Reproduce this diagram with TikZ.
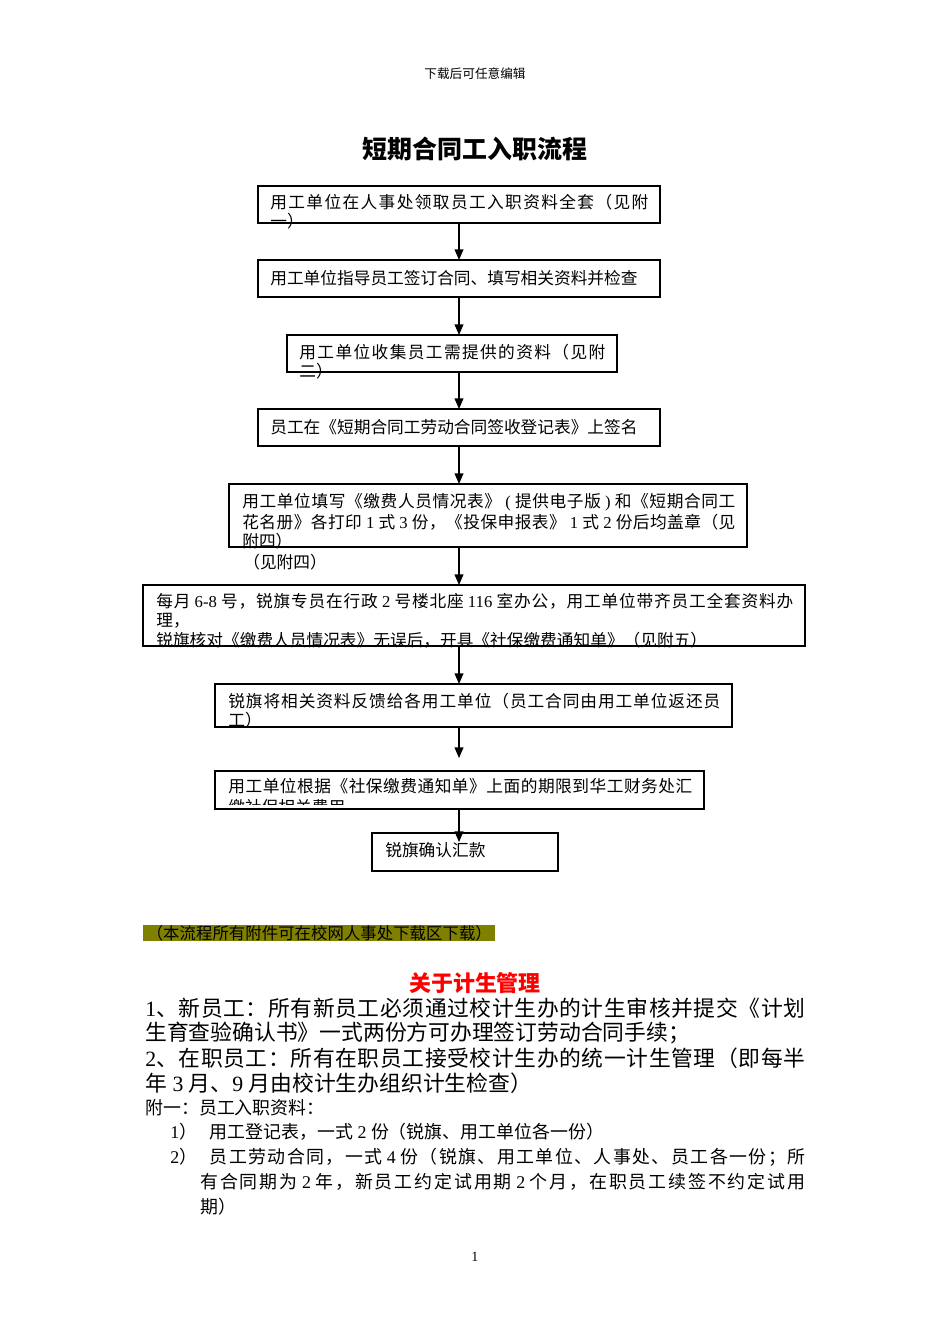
\documentclass[tikz,border=0pt]{standalone}
\usepackage{fontspec}
\setmainfont{Noto Sans CJK SC}
\newfontfamily\latf{Liberation Serif}
\usetikzlibrary{arrows.meta}
\newcommand\lat[1]{{\latf#1}}
\newdimen\pxu \pxu=0.02cm
\newcommand\jl[2]{\hbox to #1\pxu{#2}}
% inter-character glue for CJK so that justified lines can stretch
\makeatletter
\count@="4E00
\loop\ifnum\count@<"A000 \XeTeXcharclass\count@=1 \advance\count@ 1 \repeat
\makeatother
\XeTeXcharclass"3001=3 \XeTeXcharclass"3002=3 \XeTeXcharclass"FF0C=3
\XeTeXcharclass"FF1A=3 \XeTeXcharclass"FF1B=3 \XeTeXcharclass"FF09=3
\XeTeXcharclass"300B=3 \XeTeXcharclass"FF08=2 \XeTeXcharclass"300A=2
\newcommand\cjkglue{\hskip0pt plus 1fil\relax}
\XeTeXinterchartokenstate=1
\XeTeXinterchartoks 1 1 {\cjkglue}
\XeTeXinterchartoks 1 2 {\cjkglue}
\XeTeXinterchartoks 1 3 {\cjkglue}
\XeTeXinterchartoks 2 1 {\cjkglue}
\XeTeXinterchartoks 2 2 {\cjkglue}
\XeTeXinterchartoks 2 3 {\cjkglue}
\XeTeXinterchartoks 3 1 {\cjkglue}
\XeTeXinterchartoks 3 2 {\cjkglue}
\XeTeXinterchartoks 3 3 {\cjkglue}
\XeTeXinterchartoks 0 1 {\cjkglue}
\XeTeXinterchartoks 1 0 {\cjkglue}
\XeTeXinterchartoks 0 2 {\cjkglue}
\XeTeXinterchartoks 3 0 {\cjkglue}
\definecolor{olivehl}{RGB}{128,128,0}
\definecolor{redhd}{RGB}{255,0,0}
\begin{document}
\begin{tikzpicture}[x=0.02cm,y=-0.02cm,
  box/.style={draw, line width=0.65pt, inner sep=0pt, outer sep=0pt},
  txt/.style={anchor=west, inner sep=0pt, font=\fontsize{9.5}{11}\selectfont},
  big/.style={anchor=west, inner sep=0pt, font=\fontsize{12.4}{14}\selectfont},
  mid/.style={anchor=west, inner sep=0pt, font=\fontsize{10.2}{12}\selectfont},
  arr/.style={line width=0.65pt, -{Triangle[length=6pt,width=5pt]}}]
\useasboundingbox[fill=white] (0,0) rectangle (950,1344);

\node[inner sep=0pt, font=\fontsize{7.2}{9}\selectfont] (hdr) at (475,74) {下载后可任意编辑};
\node[inner sep=0pt, font=\fontsize{14.2}{16}\selectfont\bfseries] (title) at (475,149) {短期合同工入职流程};

% boxes
\node[box, minimum width=8.04cm, minimum height=0.74cm] (b1) at (459,204.5) {};
\node[box, minimum width=8.04cm, minimum height=0.74cm] (b2) at (459,278.5) {};
\node[box, minimum width=6.6cm, minimum height=0.74cm] (b3) at (452,353.5) {};
\node[box, minimum width=8.04cm, minimum height=0.74cm] (b4) at (459,427.5) {};
\node[box, minimum width=10.36cm, minimum height=1.26cm] (b5) at (488,515.5) {};
\node[box, minimum width=13.24cm, minimum height=1.22cm] (b6) at (474,615.5) {};
\node[box, minimum width=10.34cm, minimum height=0.86cm] (b7) at (473.5,705.5) {};
\node[box, minimum width=9.78cm, minimum height=0.76cm] (b8) at (459.5,790) {};
\node[box, minimum width=3.72cm, minimum height=0.76cm] (b9) at (465,852) {};

% box texts
\node[txt] (t1a) at (270,202) {\jl{378}{用工单位在人事处领取员工入职资料全套（见附}};
\node[txt] (t1b) at (270,221) {一）};
\node[txt] (t2) at (270,278) {用工单位指导员工签订合同、填写相关资料并检查};
\node[txt] (t3a) at (299,352) {\jl{306}{用工单位收集员工需提供的资料（见附}};
\node[txt] (t3b) at (299,371) {二）};
\node[txt] (t4) at (270,427) {员工在《短期合同工劳动合同签收登记表》上签名};
\node[txt] (t5a) at (242,502) {\jl{493}{用工单位填写《缴费人员情况表》\lat{ ( }提供电子版\lat{ ) }和《短期合同工}};
\node[txt] (t5b) at (242,522) {\jl{493}{花名册》各打印\lat{ 1 }式\lat{ 3 }份，《投保申报表》\lat{ 1 }式\lat{ 2 }份后均盖章（见}};
\node[txt] (t5c) at (242,541) {附四）};
\node[txt] (t5d) at (243,562) {（见附四）};
\node[txt] (t6a) at (156,601) {\jl{637}{每月\lat{ 6-8 }号，锐旗专员在行政\lat{ 2 }号楼北座\lat{ 116 }室办公，用工单位带齐员工全套资料办}};
\node[txt] (t6b) at (156,621) {理，};
\node[txt] (t6c) at (156,640) {锐旗核对《缴费人员情况表》无误后，开具《社保缴费通知单》（见附五）};
\node[txt] (t7a) at (228,701) {\jl{492}{锐旗将相关资料反馈给各用工单位（员工合同由用工单位返还员}};
\node[txt] (t7b) at (228,720) {工）};
\node[txt] (t8a) at (228,786) {\jl{464}{用工单位根据《社保缴费通知单》上面的期限到华工财务处汇}};
\begin{scope}
\clip (215,771) rectangle (704,804);
\node[txt] (t8b) at (228,807) {缴社保相关费用};
\end{scope}
\node[txt] (t9) at (385,850) {锐旗确认汇款};

% arrows
\draw[arr] (b1.south) -- (b2.north);
\draw[arr] (b2.south) -- (b3.north -| b2.south);
\draw[arr] (b3.south -| b2.south) -- (b4.north);
\draw[arr] (b4.south) -- (b5.north -| b4.south);
\draw[arr] (b5.south -| b4.south) -- (b6.north -| b4.south);
\draw[arr] (b6.south -| b4.south) -- (b7.north -| b4.south);
\draw[arr, shorten >=0.26cm] (b7.south -| b4.south) -- (b8.north -| b4.south);
\draw[arr, shorten >=-0.18cm] (b8.south -| b4.south) -- (b9.north -| b4.south);

% note
\node[fill=olivehl, anchor=west, inner sep=0pt, minimum width=7.04cm, minimum height=0.32cm,
  font=\fontsize{9.3}{11}\selectfont] (note) at (143,933) {\jl{345}{（本流程所有附件可在校网人事处下载区下载）}};

\node[inner sep=0pt, text=redhd, font=\fontsize{12.5}{14}\selectfont\bfseries] (hd2) at (475,983) {关于计生管理};

\node[big] (p1) at (145,1008) {\jl{660}{\lat{1}、新员工：所有新员工必须通过校计生办的计生审核并提交《计划}};
\node[big] (p2) at (145,1033) {生育查验确认书》一式两份方可办理签订劳动合同手续；};
\node[big] (p3) at (145,1058) {\jl{660}{\lat{2}、在职员工：所有在职员工接受校计生办的统一计生管理（即每半}};
\node[big] (p4) at (145,1083) {年\lat{ 3 }月、\lat{9 }月由校计生办组织计生检查）};

\node[mid] (q1) at (145,1108) {附一：员工入职资料：};
\node[mid] (q2) at (170,1132) {\lat{1}）\hspace*{0.7em}用工登记表，一式\lat{ 2 }份（锐旗、用工单位各一份）};
\node[mid] (q3) at (170,1157) {\jl{635}{\lat{2}）\hspace*{0.7em}员工劳动合同，一式\lat{ 4 }份（锐旗、用工单位、人事处、员工各一份；所}};
\node[mid] (q4) at (200,1182) {\jl{605}{有合同期为\lat{ 2 }年，新员工约定试用期\lat{ 2 }个月，在职员工续签不约定试用}};
\node[mid] (q5) at (200,1207) {期）};

\node[inner sep=0pt, font=\latf\fontsize{8}{10}\selectfont] (pg) at (475,1257) {1};
\end{tikzpicture}
\end{document}
